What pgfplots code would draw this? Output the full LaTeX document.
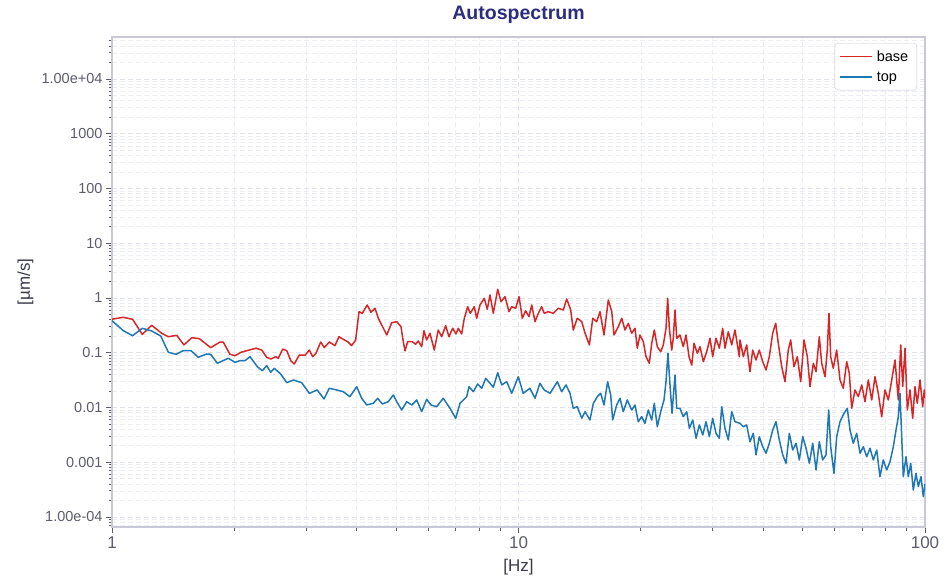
\documentclass[border=0pt]{standalone}
\usepackage{fontspec}
\setmainfont{Liberation Sans}
\usepackage{pgfplots}
\pgfplotsset{compat=1.18}
\definecolor{tabred}{HTML}{D62728}
\definecolor{tabblue}{HTML}{1F77B4}
\definecolor{ticktext}{HTML}{5C5C6C}
\definecolor{labeltext}{HTML}{3A3A48}
\definecolor{framec}{HTML}{C8C8D8}
\definecolor{gridmaj}{HTML}{E2E2EC}
\definecolor{gridmin}{HTML}{EDEDF4}
\definecolor{titlec}{HTML}{2B2D7E}
\begin{document}
\begin{tikzpicture}
\path[use as bounding box] (-112pt,-60pt) rectangle (837pt,527pt);
\begin{axis}[
  at={(0pt,0pt)}, anchor=south west,
  scale only axis, width=813pt, height=490pt,
  xmode=log, ymode=log,
  xmin=1, xmax=100, ymin=6.56e-5, ymax=5.85e4,
  xtick={1,10,100}, xticklabels={1,10,100},
  minor xtick={2,3,4,5,6,7,8,9,20,30,40,50,60,70,80,90},
  ytick={1e-4,1e-3,1e-2,1e-1,1,10,100,1000,1e4},
  yticklabels={1.00e-04,0.001,0.01,0.1,1,10,100,1000,1.00e+04},
  minor ytick={7e-5,8e-5,9e-5,2e-4,3e-4,4e-4,5e-4,6e-4,7e-4,8e-4,9e-4,
    2e-3,3e-3,4e-3,5e-3,6e-3,7e-3,8e-3,9e-3,
    0.02,0.03,0.04,0.05,0.06,0.07,0.08,0.09,
    0.2,0.3,0.4,0.5,0.6,0.7,0.8,0.9,
    2,3,4,5,6,7,8,9,20,30,40,50,60,70,80,90,
    200,300,400,500,600,700,800,900,
    2000,3000,4000,5000,6000,7000,8000,9000,
    20000,30000,40000,50000},
  tick pos=left, tick align=outside,
  major tick length=6pt, minor tick length=3.5pt,
  tick style={color=ticktext, line width=0.8pt},
  axis line style={color=framec, line width=1.1pt},
  grid=both,
  major grid style={dash pattern=on 5pt off 3pt, color=gridmaj, line width=0.8pt},
  minor grid style={dash pattern=on 5pt off 3pt, color=gridmin, line width=0.7pt},
  xticklabel style={font=\fontsize{17}{19}\selectfont, text=ticktext},
  yticklabel style={font=\fontsize{14.5}{17}\selectfont, text=ticktext},
  title={Autospectrum},
  title style={at={(axis description cs:0.5,1.0225)}, anchor=base,
    font=\fontsize{19.5}{22}\selectfont\bfseries, text=titlec},
  xlabel={[Hz]},
  xlabel style={at={(axis description cs:0.5,-0.0918)}, anchor=base,
    font=\fontsize{17}{19}\selectfont, text=labeltext},
  ylabel={[µm/s]},
  ylabel style={at={(axis description cs:-0.1009,0.5)}, anchor=base,
    font=\fontsize{17}{19}\selectfont, text=labeltext},
  legend style={at={(axis description cs:1,1)}, anchor=north east,
    xshift=-8pt, yshift=-6pt, draw=framec, rounded corners=3pt,
    fill=white, font=\fontsize{14.5}{16}\selectfont, text=black,
    inner xsep=4pt, inner ysep=3pt, row sep=0pt,
    nodes={inner sep=4.5pt}},
  legend cell align=left,
  legend image code/.code={\draw[#1, line width=1.5pt] (0pt,0pt) -- (32pt,0pt);},
]
\addplot[color=tabred, line width=1.5pt, line join=round] coordinates {
(1.0,0.41)(1.066,0.444)(1.124,0.408)(1.187,0.217)(1.252,0.317)(1.325,0.227)(1.376,0.196)(1.443,0.208)(1.503,0.139)(1.571,0.188)(1.640,0.181)(1.749,0.124)(1.844,0.157)(1.878,0.157)(1.951,0.0937)(2.007,0.0883)(2.077,0.102)(2.261,0.121)(2.335,0.112)(2.402,0.0826)(2.461,0.0769)(2.527,0.0847)(2.565,0.0792)(2.630,0.117)(2.691,0.109)(2.756,0.0707)(2.808,0.0623)(2.889,0.0910)(2.985,0.0898)(3.058,0.112)(3.117,0.0847)(3.176,0.0977)(3.262,0.157)(3.329,0.124)(3.424,0.157)(3.536,0.135)(3.617,0.196)(3.707,0.176)(3.801,0.159)(3.887,0.135)(3.976,0.171)(4.052,0.562)(4.128,0.525)(4.246,0.745)(4.336,0.548)(4.436,0.649)(4.520,0.426)(4.608,0.321)(4.741,0.211)(4.877,0.354)(5.017,0.369)(5.140,0.299)(5.207,0.159)(5.258,0.108)(5.338,0.159)(5.479,0.159)(5.586,0.143)(5.669,0.164)(5.779,0.129)(5.854,0.253)(5.944,0.171)(6.056,0.227)(6.206,0.112)(6.348,0.260)(6.472,0.196)(6.620,0.312)(6.745,0.196)(6.888,0.280)(7.018,0.220)(7.110,0.280)(7.249,0.220)(7.357,0.426)(7.499,0.693)(7.610,0.525)(7.785,0.693)(7.891,0.426)(8.040,0.745)(8.238,0.987)(8.379,0.622)(8.510,1.134)(8.670,0.525)(8.889,1.442)(9.058,0.856)(9.265,1.056)(9.476,0.562)(9.623,0.693)(9.842,0.649)(10.03,1.056)(10.22,0.426)(10.41,0.586)(10.61,0.455)(10.78,0.745)(10.98,0.369)(11.19,0.525)(11.40,0.693)(11.57,0.525)(11.84,0.562)(12.18,0.525)(12.53,0.649)(12.89,0.604)(13.14,0.959)(13.44,0.604)(13.64,0.260)(13.95,0.426)(14.31,0.369)(14.58,0.227)(14.94,0.139)(15.23,0.426)(15.57,0.369)(15.87,0.562)(16.23,0.211)(16.63,0.919)(16.96,0.562)(17.18,0.211)(17.60,0.299)(17.95,0.426)(18.28,0.260)(18.63,0.345)(18.99,0.227)(19.35,0.280)(19.60,0.121)(19.90,0.211)(20.28,0.159)(20.59,0.0847)(20.98,0.0642)(21.27,0.149)(21.58,0.260)(21.95,0.129)(22.38,0.1045)(22.71,0.139)(23.06,0.280)(23.28,0.987)(23.50,0.280)(23.82,0.112)(24.03,0.184)(24.27,0.604)(24.50,0.184)(24.96,0.211)(25.43,0.129)(25.83,0.211)(26.27,0.0847)(26.68,0.0597)(27.03,0.149)(27.54,0.0977)(27.96,0.129)(28.49,0.0687)(29.04,0.1045)(29.59,0.184)(30.04,0.0847)(30.61,0.184)(31.19,0.121)(31.79,0.280)(32.21,0.121)(32.82,0.242)(33.46,0.139)(34.09,0.260)(34.93,0.0847)(35.07,0.171)(35.73,0.0847)(36.42,0.139)(37.11,0.0451)(37.68,0.112)(38.40,0.0737)(39.12,0.112)(39.88,0.0687)(40.64,0.0484)(41.40,0.0847)(42.20,0.227)(42.93,0.345)(43.56,0.149)(44.41,0.0556)(45.25,0.0296)(46.10,0.112)(46.73,0.171)(47.61,0.0556)(48.52,0.0847)(49.46,0.0296)(50.39,0.171)(51.35,0.0847)(52.13,0.0240)(53.12,0.0642)(53.94,0.0451)(54.95,0.196)(55.70,0.0642)(56.75,0.0365)(57.50,0.112)(58.05,0.525)(58.61,0.0847)(59.48,0.0520)(60.64,0.112)(61.79,0.0318)(62.95,0.0224)(64.18,0.0687)(65.13,0.0421)(66.02,0.00967)(67.27,0.0209)(68.54,0.01575)(69.88,0.0258)(71.19,0.01276)(72.54,0.0318)(73.95,0.01371)(75.34,0.0365)(76.76,0.01817)(78.26,0.00679)(79.73,0.0209)(81.24,0.01371)(82.82,0.0318)(84.38,0.0737)(85.97,0.01371)(87.15,0.139)(88.14,0.0240)(89.30,0.121)(90.48,0.0090)(91.86,0.0209)(93.26,0.00635)(94.49,0.0240)(95.72,0.01193)(97.21,0.0318)(98.70,0.01034)(99.6,0.0209)(100,0.015)
};
\addlegendentry{base}
\addplot[color=tabblue, line width=1.5pt, line join=round] coordinates {
(1.0,0.385)(1.066,0.253)(1.124,0.205)(1.187,0.280)(1.252,0.250)(1.318,0.202)(1.376,0.102)(1.437,0.0937)(1.497,0.109)(1.564,0.109)(1.631,0.0826)(1.710,0.0949)(1.749,0.0937)(1.816,0.0642)(1.932,0.0792)(2.007,0.0669)(2.065,0.0716)(2.124,0.0716)(2.185,0.0847)(2.278,0.0556)(2.343,0.0470)(2.402,0.0580)(2.457,0.0440)(2.507,0.0520)(2.600,0.0409)(2.691,0.0284)(2.793,0.0318)(2.929,0.0284)(3.058,0.01817)(3.199,0.0209)(3.323,0.01429)(3.424,0.0224)(3.570,0.0209)(3.707,0.01943)(3.850,0.01575)(3.999,0.0240)(4.114,0.01472)(4.232,0.01111)(4.393,0.01193)(4.504,0.01472)(4.623,0.01159)(4.782,0.01276)(4.920,0.0169)(5.017,0.01276)(5.160,0.0090)(5.309,0.01276)(5.462,0.01111)(5.618,0.01371)(5.779,0.00838)(5.944,0.01412)(6.092,0.01111)(6.292,0.01034)(6.531,0.01472)(6.783,0.00967)(7.007,0.00635)(7.180,0.01193)(7.458,0.01575)(7.555,0.0240)(7.742,0.01943)(7.937,0.0269)(8.120,0.0224)(8.306,0.0341)(8.510,0.0277)(8.670,0.0234)(8.889,0.0432)(9.092,0.0258)(9.354,0.0296)(9.623,0.01817)(9.99,0.0365)(10.27,0.01817)(10.67,0.0224)(10.98,0.01472)(11.29,0.0277)(11.57,0.0209)(11.96,0.01817)(12.46,0.0296)(12.77,0.01943)(13.09,0.0258)(13.39,0.01817)(13.64,0.00967)(13.95,0.01034)(14.31,0.00635)(14.58,0.00838)(14.99,0.00591)(15.28,0.01193)(15.63,0.01575)(15.93,0.01817)(16.23,0.01111)(16.57,0.0296)(16.86,0.0169)(17.05,0.00591)(17.44,0.01111)(17.77,0.01472)(18.10,0.00838)(18.52,0.01371)(18.99,0.0090)(19.35,0.01111)(19.71,0.0055)(20.09,0.00679)(20.47,0.00514)(20.86,0.0090)(21.27,0.00591)(21.58,0.01193)(21.95,0.00446)(22.38,0.00838)(22.80,0.01371)(23.06,0.0296)(23.32,0.0977)(23.59,0.0258)(23.86,0.00783)(24.27,0.0392)(24.50,0.00967)(24.96,0.00967)(25.43,0.00679)(25.93,0.00838)(26.32,0.00417)(26.83,0.00591)(27.34,0.00274)(27.86,0.00479)(28.40,0.00315)(28.93,0.0055)(29.48,0.00293)(30.04,0.00635)(30.61,0.00338)(31.19,0.00274)(31.62,0.01034)(32.21,0.00417)(32.82,0.00255)(33.46,0.00838)(34.09,0.0055)(35.07,0.00514)(35.73,0.00446)(36.42,0.00479)(37.11,0.00237)(37.81,0.00338)(38.40,0.00136)(39.12,0.00293)(39.88,0.00192)(40.64,0.00146)(41.40,0.00222)(42.20,0.00388)(43.00,0.0055)(43.82,0.00255)(44.67,0.00136)(45.51,0.000957)(46.37,0.00338)(47.27,0.00167)(48.17,0.00222)(49.07,0.0011)(50.03,0.00293)(50.98,0.0018)(51.94,0.000957)(52.94,0.00222)(53.94,0.000722)(54.95,0.00237)(56.00,0.0011)(57.07,0.00136)(57.96,0.0090)(58.61,0.00192)(59.72,0.000628)(60.64,0.00293)(61.79,0.0055)(63.20,0.00783)(64.40,0.00967)(65.39,0.00388)(66.62,0.00222)(67.92,0.00338)(69.20,0.00146)(70.51,0.00192)(71.88,0.00126)(73.24,0.0018)(74.62,0.0011)(76.07,0.00167)(77.50,0.000545)(78.96,0.0011)(80.50,0.000722)(82.02,0.00102)(83.56,0.00192)(84.86,0.00388)(85.97,0.00679)(86.80,0.01817)(87.64,0.00293)(88.43,0.000545)(89.80,0.00126)(90.98,0.000545)(92.23,0.000957)(93.58,0.000311)(95.03,0.000628)(96.27,0.000358)(97.76,0.000545)(99.04,0.000235)(100,0.0004)
};
\addlegendentry{top}
\end{axis}
\end{tikzpicture}
\end{document}
